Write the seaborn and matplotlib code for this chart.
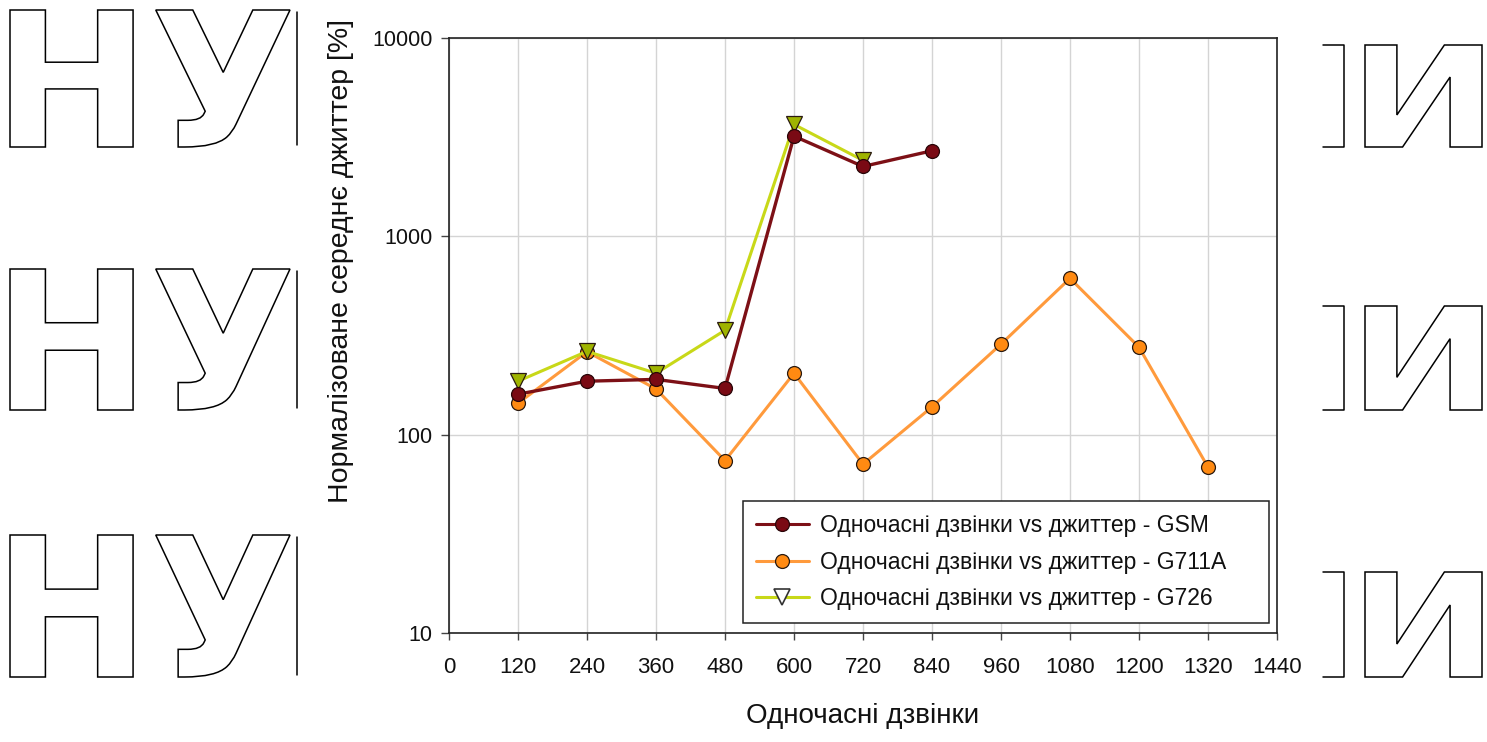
import matplotlib
matplotlib.use("Agg")
import matplotlib.pyplot as plt
from matplotlib.lines import Line2D
from matplotlib.patches import PathPatch
from matplotlib.textpath import TextPath
from matplotlib.font_manager import FontProperties
from matplotlib.transforms import Affine2D, IdentityTransform
from matplotlib.ticker import FixedLocator, FuncFormatter, NullLocator
import seaborn as sns
import pandas as pd

# Concurrent calls vs normalised mean jitter, per codec
calls_gsm = [120, 240, 360, 480, 600, 720, 840]
jitter_gsm = [160, 186, 190, 171, 3200, 2250, 2700]

calls_g711a = [120, 240, 360, 480, 600, 720, 840, 960, 1080, 1200, 1320]
jitter_g711a = [144, 262, 170, 74, 204, 71, 138, 286, 614, 276, 68.6]

calls_g726 = [120, 240, 360, 480, 600, 720]
jitter_g726 = [186, 263, 204, 336, 3666, 2415]

x_ticks = list(range(0, 1441, 120))
y_ticks = [10, 100, 1000, 10000]

label_gsm = "Одночасні дзвінки vs джиттер - GSM"
label_g711a = "Одночасні дзвінки vs джиттер - G711A"
label_g726 = "Одночасні дзвінки vs джиттер - G726"

sns.set_theme(style="white")
plt.rcParams["font.family"] = ["Liberation Sans", "DejaVu Sans"]

W, H = 1487, 742
fig = plt.figure(figsize=(W / 100, H / 100), dpi=100)
fig.patch.set_facecolor("white")


def fx(px):
    return px / W


def fy(py):
    return 1 - py / H


glyph_font = FontProperties(family="DejaVu Sans", weight="bold")


def outlined_glyphs(text, left, right, top, bottom):
    """Draw hollow letters stretched into a pixel box (y measured from the top)."""
    path = TextPath((0, 0), text, size=100, prop=glyph_font)
    ext = path.get_extents()
    sx = (right - left) / ext.width
    sy = (bottom - top) / ext.height
    tr = (Affine2D().translate(-ext.x0, -ext.y0).scale(sx, sy)
          .translate(left, H - bottom))
    patch = PathPatch(tr.transform_path(path), facecolor="white",
                      edgecolor="black", lw=1.1, transform=IdentityTransform(),
                      zorder=0)
    fig.add_artist(patch)


# Outlined letters in the page margins
rows_left = [(10, 147), (269, 410), (535, 677)]
rows_right = [(45, 147), (306, 410), (572, 677)]
for (lt, lb), (rt, rb) in zip(rows_left, rows_right):
    outlined_glyphs("НУ", 10, 290, lt, lb)
    outlined_glyphs("И", 1365, 1482, rt, rb)
    fig.add_artist(Line2D([fx(297), fx(297)], [fy(lt + 2), fy(lb - 2)],
                          transform=fig.transFigure, color="black", lw=1.1))
    fig.add_artist(Line2D([fx(1323), fx(1344), fx(1344), fx(1323)],
                          [fy(rt), fy(rt), fy(rb), fy(rb)],
                          transform=fig.transFigure, color="black", lw=1.1))

ax = fig.add_axes([fx(449), fy(633), fx(1277) - fx(449), fy(38) - fy(633)])
ax.set_facecolor("white")

df_gsm = pd.DataFrame({"calls": calls_gsm, "jitter": jitter_gsm})
df_g711a = pd.DataFrame({"calls": calls_g711a, "jitter": jitter_g711a})
df_g726 = pd.DataFrame({"calls": calls_g726, "jitter": jitter_g726})

col_gsm, mk_gsm = "#7d1016", "#7a0a14"
col_g711a, mk_g711a = "#ff9a3c", "#ff8a12"
col_g726, mk_g726 = "#c8d818", "#9fb400"
edge = "#2a1a10"

sns.lineplot(data=df_g711a, x="calls", y="jitter", ax=ax, color=col_g711a,
             linewidth=2.2, marker="o", markersize=10, markerfacecolor=mk_g711a,
             markeredgecolor=edge, markeredgewidth=0.9, zorder=3)
sns.lineplot(data=df_g726, x="calls", y="jitter", ax=ax, color=col_g726,
             linewidth=2.2, marker="v", markersize=11, markerfacecolor=mk_g726,
             markeredgecolor=edge, markeredgewidth=0.9, zorder=4)
sns.lineplot(data=df_gsm, x="calls", y="jitter", ax=ax, color=col_gsm,
             linewidth=2.4, marker="o", markersize=10, markerfacecolor=mk_gsm,
             markeredgecolor="#2a0508", markeredgewidth=0.9, zorder=5)

ax.set_yscale("log")
ax.set_xlim(0, 1440)
ax.set_ylim(10, 10000)
ax.xaxis.set_major_locator(FixedLocator(x_ticks))
ax.yaxis.set_major_locator(FixedLocator(y_ticks))
ax.yaxis.set_minor_locator(NullLocator())
ax.yaxis.set_major_formatter(FuncFormatter(lambda v, p: f"{v:g}"))
ax.grid(True, which="major", color="#d4d4d4", linewidth=1.0)
ax.set_axisbelow(True)

for s in ax.spines.values():
    s.set_color("#222222")
    s.set_linewidth(1.2)

ax.tick_params(axis="x", which="major", direction="out", length=5, width=1,
               color="#444444", labelsize=16, pad=12, bottom=True)
ax.tick_params(axis="y", which="major", direction="out", length=6, width=1,
               color="#444444", labelsize=15.5, pad=6, left=True)
for t in ax.get_xticklabels() + ax.get_yticklabels():
    t.set_color("#111111")

ax.set_xlabel("Одночасні дзвінки", fontsize=20, color="#111111")
ax.set_ylabel("Нормалізоване середнє джиттер [%]", fontsize=20.5, color="#111111")
ax.xaxis.set_label_coords(0.5, -0.118)
ax.yaxis.set_label_coords(-0.115, 0.625)

handles = [
    Line2D([], [], color=col_gsm, lw=2.2, marker="o", markersize=10,
           markerfacecolor=mk_gsm, markeredgecolor="#2a0508", markeredgewidth=0.9),
    Line2D([], [], color=col_g711a, lw=2.2, marker="o", markersize=10,
           markerfacecolor=mk_g711a, markeredgecolor=edge, markeredgewidth=0.9),
    Line2D([], [], color=col_g726, lw=2.2, marker="v", markersize=11,
           markerfacecolor="white", markeredgecolor="#333333", markeredgewidth=1.2),
]
leg = ax.legend(handles, [label_gsm, label_g711a, label_g726],
                loc="lower left", bbox_to_anchor=(0.355, 0.0168, 0.635, 0.2),
                mode="expand", fontsize=16.5,
                frameon=True, fancybox=False, framealpha=1, edgecolor="#222222",
                handlelength=2.35, handletextpad=0.48, labelspacing=0.6,
                borderpad=0.55, borderaxespad=0)
leg.get_frame().set_linewidth(1.1)
for t in leg.get_texts():
    t.set_color("#111111")

fig.savefig("out.png", dpi=100, facecolor="white")
